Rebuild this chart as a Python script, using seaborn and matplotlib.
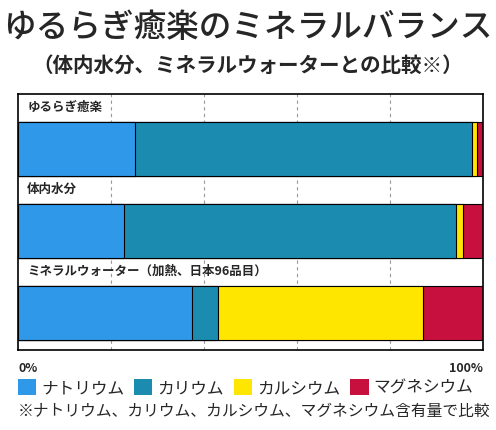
import seaborn as sns
import pandas as pd
import matplotlib.pyplot as plt
import numpy as np
from matplotlib.patches import Patch

# data (percent of total mineral content)
rows = ['ゆるらぎ癒楽', '体内水分', 'ミネラルウォーター（加熱、日本96品目）']
minerals = ['ナトリウム', 'カリウム', 'カルシウム', 'マグネシウム']
sodium = [25.2, 22.8, 37.4]
potassium = [72.4, 71.5, 5.6]
calcium = [1.2, 1.5, 44.1]
magnesium = [1.2, 4.2, 12.9]
colors = ['#2f98e8', '#1b8cb0', '#ffe600', '#c8103e']

sns.set_style('white')
plt.rcParams['font.family'] = ['Noto Sans CJK JP', 'DejaVu Sans']

df = pd.DataFrame({'row': rows, 'ナトリウム': sodium, 'カリウム': potassium,
                   'カルシウム': calcium, 'マグネシウム': magnesium})
cum = df[minerals].cumsum(axis=1)
cum['row'] = df['row']

fig = plt.figure(figsize=(4.96, 4.30), dpi=100)
ax = fig.add_axes([0.0363, 0.186, 0.9375, 0.595])

for x in [20, 40, 60, 80]:
    ax.axvline(x, color='#999999', linestyle=(0, (3, 3)), linewidth=0.8, zorder=0)

# stacked bars: draw cumulative totals from the largest down
for m, c in reversed(list(zip(minerals, colors))):
    sns.barplot(data=cum, x=m, y='row', color=c, orient='h', width=0.66,
                edgecolor='black', linewidth=0.8, saturation=1, ax=ax, zorder=2)

ax.set_xlim(0, 100)
ax.set_ylim(2.457, -0.665)
ax.set_xlabel('')
ax.set_ylabel('')
ax.set_xticks([])
ax.set_yticks([])
for s in ax.spines.values():
    s.set_color('black')
    s.set_linewidth(1.2)

for i, r in enumerate(rows):
    ax.text(2, i - 0.5, r, fontsize=9, fontweight='bold', va='center', ha='left', zorder=3)

fig.text(0.5, 0.937, 'ゆるらぎ癒楽のミネラルバランス', fontsize=23.5, fontweight='medium',
         ha='center', va='center')
fig.text(0.5, 0.847, '（体内水分、ミネラルウォーターとの比較※）', fontsize=14.8, fontweight='bold',
         ha='center', va='center')
fig.text(0.0363, 0.144, '0%', fontsize=9, fontweight='bold', ha='left', va='center')
fig.text(0.974, 0.144, '100%', fontsize=9, fontweight='bold', ha='right', va='center')

handles = [Patch(facecolor=c, edgecolor='none') for c in colors]
fig.legend(handles, minerals, loc='center left', bbox_to_anchor=(0.022, 0.098), ncol=4,
           frameon=False, fontsize=12, handlelength=1.1, handleheight=1.1,
           handletextpad=0.3, columnspacing=0.6, borderaxespad=0)
fig.text(0.0363, 0.044, '※ナトリウム、カリウム、カルシウム、マグネシウム含有量で比較',
         fontsize=11.3, ha='left', va='center')

plt.savefig('out.png', dpi=100)
